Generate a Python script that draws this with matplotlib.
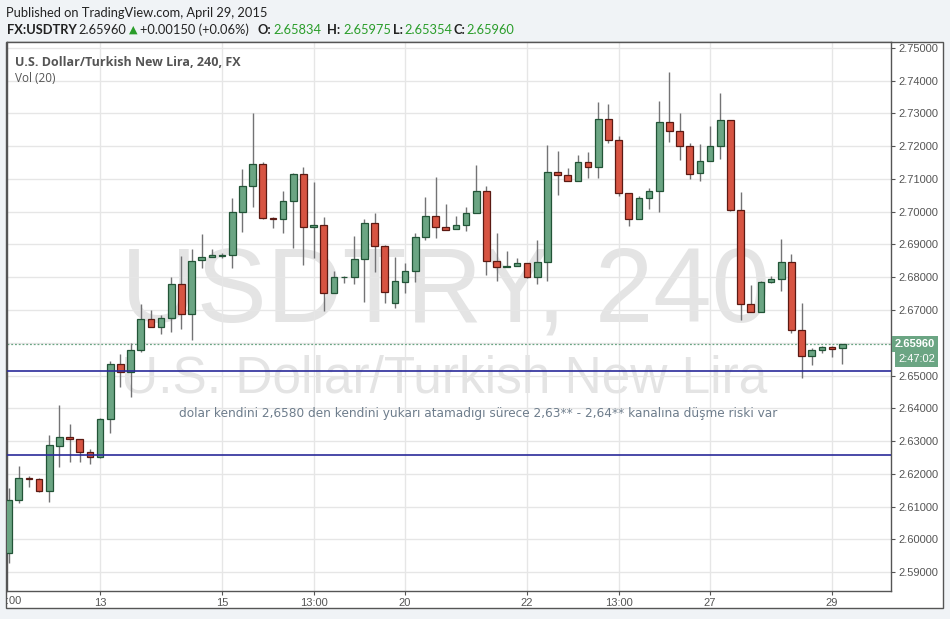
import matplotlib
matplotlib.use('Agg')
import matplotlib.pyplot as plt
from matplotlib.patches import Rectangle
from matplotlib.ticker import FixedLocator, FuncFormatter
import numpy as np

# 4h candles, FX:USDTRY, April 2015
opens = [2.5959, 2.6120, 2.6187, 2.6183, 2.6147, 2.6285, 2.6311, 2.6305, 2.6266, 2.6250,
         2.6366, 2.6534, 2.6510, 2.6578, 2.6671, 2.6647, 2.6675, 2.6778, 2.6687, 2.6852,
         2.6861, 2.6866, 2.6867, 2.6998, 2.7078, 2.7145, 2.6982, 2.6977, 2.7032, 2.7115,
         2.6952, 2.6959, 2.6751, 2.6800, 2.6800, 2.6855, 2.6965, 2.6895, 2.6720, 2.6786,
         2.6818, 2.6922, 2.6986, 2.6953, 2.6946, 2.6959, 2.6995, 2.7062, 2.6850, 2.6832,
         2.6833, 2.6843, 2.6800, 2.6846, 2.7120, 2.7111, 2.7095, 2.7151, 2.7138, 2.7282,
         2.7218, 2.7056, 2.6977, 2.7041, 2.7062, 2.7273, 2.7247, 2.7200, 2.7117, 2.7154,
         2.7200, 2.7279, 2.7004, 2.6717, 2.6693, 2.6786, 2.6795, 2.6846, 2.6638, 2.6559,
         2.6577, 2.6586, 2.65834]
highs = [2.6157, 2.6224, 2.6193, 2.6186, 2.6318, 2.6410, 2.6352, 2.6307, 2.6276, 2.6369,
         2.6544, 2.6566, 2.6598, 2.6718, 2.6700, 2.6685, 2.6800, 2.6865, 2.6885, 2.6932,
         2.6886, 2.6873, 2.7041, 2.7131, 2.7300, 2.7153, 2.6983, 2.7064, 2.7119, 2.7138,
         2.7092, 2.6985, 2.6819, 2.6805, 2.6926, 2.6978, 2.6995, 2.6898, 2.6863, 2.6843,
         2.6936, 2.7046, 2.7105, 2.7023, 2.6986, 2.7014, 2.7143, 2.7079, 2.6934, 2.6879,
         2.6859, 2.6845, 2.6914, 2.7204, 2.7185, 2.7133, 2.7173, 2.7181, 2.7335, 2.7329,
         2.7231, 2.7056, 2.7048, 2.7072, 2.7338, 2.7426, 2.7302, 2.7209, 2.7207, 2.7262,
         2.7363, 2.7280, 2.7060, 2.6775, 2.6789, 2.6803, 2.6916, 2.6871, 2.6722, 2.6583,
         2.6589, 2.6590, 2.65975]
lows = [2.5927, 2.6110, 2.6160, 2.6145, 2.6115, 2.6222, 2.6237, 2.6237, 2.6231, 2.6247,
        2.6323, 2.6466, 2.6435, 2.6571, 2.6647, 2.6626, 2.6632, 2.6641, 2.6608, 2.6829,
        2.6861, 2.6858, 2.6829, 2.6937, 2.7015, 2.6977, 2.6949, 2.6936, 2.6888, 2.6837,
        2.6858, 2.6698, 2.6751, 2.6782, 2.6778, 2.6725, 2.6817, 2.6720, 2.6705, 2.6753,
        2.6786, 2.6914, 2.6921, 2.6945, 2.6946, 2.6942, 2.6995, 2.6807, 2.6789, 2.6832,
        2.6833, 2.6797, 2.6779, 2.6789, 2.7050, 2.7095, 2.7095, 2.7104, 2.7104, 2.7209,
        2.7049, 2.6957, 2.6977, 2.7009, 2.6998, 2.7214, 2.7159, 2.7099, 2.7095, 2.7154,
        2.7162, 2.7002, 2.6669, 2.6693, 2.6693, 2.6782, 2.6759, 2.6629, 2.6491, 2.6533,
        2.6569, 2.6557, 2.65354]
closes = [2.6120, 2.6187, 2.6183, 2.6147, 2.6287, 2.6311, 2.6305, 2.6265, 2.6250, 2.6366,
          2.6534, 2.6510, 2.6578, 2.6671, 2.6647, 2.6675, 2.6778, 2.6687, 2.6850, 2.6861,
          2.6868, 2.6868, 2.6998, 2.7078, 2.7145, 2.6980, 2.6978, 2.7032, 2.7115, 2.6952,
          2.6959, 2.6751, 2.6800, 2.6801, 2.6855, 2.6965, 2.6895, 2.6754, 2.6789, 2.6818,
          2.6922, 2.6986, 2.6953, 2.6945, 2.6959, 2.6995, 2.7062, 2.6850, 2.6832, 2.6834,
          2.6843, 2.6800, 2.6846, 2.7120, 2.7111, 2.7095, 2.7151, 2.7138, 2.7282, 2.7218,
          2.7056, 2.6977, 2.7041, 2.7062, 2.7273, 2.7247, 2.7200, 2.7114, 2.7154, 2.7200,
          2.7279, 2.7004, 2.6717, 2.6693, 2.6786, 2.6795, 2.6846, 2.6638, 2.6559, 2.6577,
          2.6586, 2.6580, 2.65960]

xtick_pos = [9, 21, 30, 39, 51, 60, 69, 81]
xtick_labels = ['13', '15', '13:00', '20', '22', '13:00', '27', '29']
yticks = [2.59, 2.60, 2.61, 2.62, 2.63, 2.64, 2.65, 2.66, 2.67,
          2.68, 2.69, 2.70, 2.71, 2.72, 2.73, 2.74, 2.75]

level_lines = [2.6514, 2.6257]
last_price = 2.6596
note = 'dolar kendini 2,6580 den kendini yukarı atamadıgı sürece 2,63** - 2,64** kanalına düşme riski var'
note_pos = (46.2, 2.6383)

up_fill, up_edge = '#6ba583', '#225437'
dn_fill, dn_edge = '#d75442', '#5b1a13'
wick_col = '#737375'
W, H = 950, 619

def px(x, y):
    return x / W, 1 - y / H

fig = plt.figure(figsize=(9.5, 6.19), dpi=100, facecolor='#f0f3f6')

# outer chart frame (behind the axes)
fig.patches.append(Rectangle(px(6, 608), 937 / W, 566 / H, transform=fig.transFigure,
                             facecolor='white', edgecolor='#555555', lw=1, zorder=-5))

ax = fig.add_axes([7 / W, 1 - 591 / H, (891 - 7) / W, (591 - 42) / H])
ax.set_facecolor('white')

o = np.array(opens); c = np.array(closes)
hi = np.array(highs); lo = np.array(lows)
x = np.arange(len(o))
up = c >= o

ax.vlines(x, lo, hi, color=wick_col, lw=1, zorder=3)
ax.bar(x[up], (c - o)[up], bottom=o[up], width=0.66, color=up_fill,
       edgecolor=up_edge, lw=0.9, zorder=4)
ax.bar(x[~up], (c - o)[~up], bottom=o[~up], width=0.66, color=dn_fill,
       edgecolor=dn_edge, lw=0.9, zorder=4)

for lv in level_lines:
    ax.axhline(lv, color='#2a2a9a', lw=1.2, zorder=5)
ax.axhline(last_price, color=up_fill, lw=0.9, ls=(0, (1.5, 1.5)), zorder=2)

ax.text(*note_pos, note, ha='center', va='center', fontsize=8.7,
        color='#6e7d8c', family='DejaVu Sans', zorder=6)

# watermark
ax.text(0.496, 0.49, 'USDTRY, 240', transform=ax.transAxes, ha='center',
        va='baseline', fontsize=75.5, color='#e4e4e4', family='Liberation Sans', zorder=0.5)
ax.text(0.494, 0.361, 'U.S. Dollar/Turkish New Lira', transform=ax.transAxes,
        ha='center', va='baseline', fontsize=37, color='#e4e4e4',
        family='Liberation Sans', zorder=0.5)

ax.set_xlim(-0.15, 86.8)
ax.set_ylim(2.5842, 2.75183)

ax.yaxis.tick_right()
ax.yaxis.set_major_locator(FixedLocator(yticks))
ax.yaxis.set_major_formatter(FuncFormatter(
    lambda v, p: '' if abs(v - 2.66) < 1e-6 else '%.5f' % v))
ax.xaxis.set_major_locator(FixedLocator(xtick_pos))
ax.set_xticklabels(xtick_labels)
ax.tick_params(axis='y', direction='out', length=3, width=0.8, color='#555555',
               labelsize=8, labelcolor='#555555', pad=2)
ax.tick_params(axis='x', direction='out', length=3, width=0.8, color='#555555',
               labelsize=8, labelcolor='#555555', pad=2)
for lab in ax.get_xticklabels():
    lab.set_family(['Liberation Sans Narrow', 'Liberation Sans'])
for lab in ax.get_yticklabels():
    lab.set_family('Liberation Sans')
ax.grid(True, color='#e6e6e6', lw=1, zorder=1)
ax.set_axisbelow(True)
for s in ax.spines.values():
    s.set_color('#555555')
    s.set_linewidth(1)

fig.text(*px(6, 601), ':00', fontsize=8, color='#555555', va='center',
         family=['Liberation Sans Narrow', 'Liberation Sans'])

# price label boxes on the right axis
yt = ax.get_yaxis_transform()
ax.text(1.004, last_price, '2.65960', transform=yt, ha='left', va='center',
        fontsize=8, color='white', fontweight='bold', family='Liberation Sans',
        bbox=dict(boxstyle='square,pad=0.25', fc=up_fill, ec='none'),
        clip_on=False, zorder=10)
ax.text(1.008, last_price - 0.0045, '2:47:02', transform=yt, ha='left', va='center',
        fontsize=8, color='white', family='Liberation Sans',
        bbox=dict(boxstyle='square,pad=0.25', fc=up_fill, ec='none'),
        clip_on=False, zorder=10)

# pane titles
ax.text(*px(15, 62), 'U.S. Dollar/Turkish New Lira, 240, FX', transform=fig.transFigure,
        fontsize=9, fontweight='bold', color='#555555', va='center', family='Open Sans')
ax.text(*px(15, 78), 'Vol (20)', transform=fig.transFigure,
        fontsize=8.5, color='#555555', va='center', family='Open Sans')

# header
fig.text(*px(6, 13), 'Published on TradingView.com, April 29, 2015', fontsize=9.3,
         color='#222222', va='center', family='Lato')
hdr = [('FX:USDTRY', 7, '#222222', 'bold'), ('2.65960', 78, '#222222', 'normal'),
       ('+0.00150 (+0.06%)', 140, '#222222', 'normal'),
       ('O:', 258, '#222222', 'bold'), ('2.65834', 273, '#2a9d2a', 'normal'),
       ('H:', 327, '#222222', 'bold'), ('2.65975', 343, '#2a9d2a', 'normal'),
       ('L:', 393, '#222222', 'bold'), ('2.65354', 404, '#2a9d2a', 'normal'),
       ('C:', 453, '#222222', 'bold'), ('2.65960', 466, '#2a9d2a', 'normal')]
for txt, xp, col, wt in hdr:
    fig.text(*px(xp, 30), txt, fontsize=9.3, color=col, fontweight=wt,
             va='center', family='Lato')
fig.text(*px(133, 30), '▲', fontsize=8, color='#2a9d2a', va='center',
         ha='center', family='DejaVu Sans')

fig.savefig('out.png', dpi=100, facecolor=fig.get_facecolor())
